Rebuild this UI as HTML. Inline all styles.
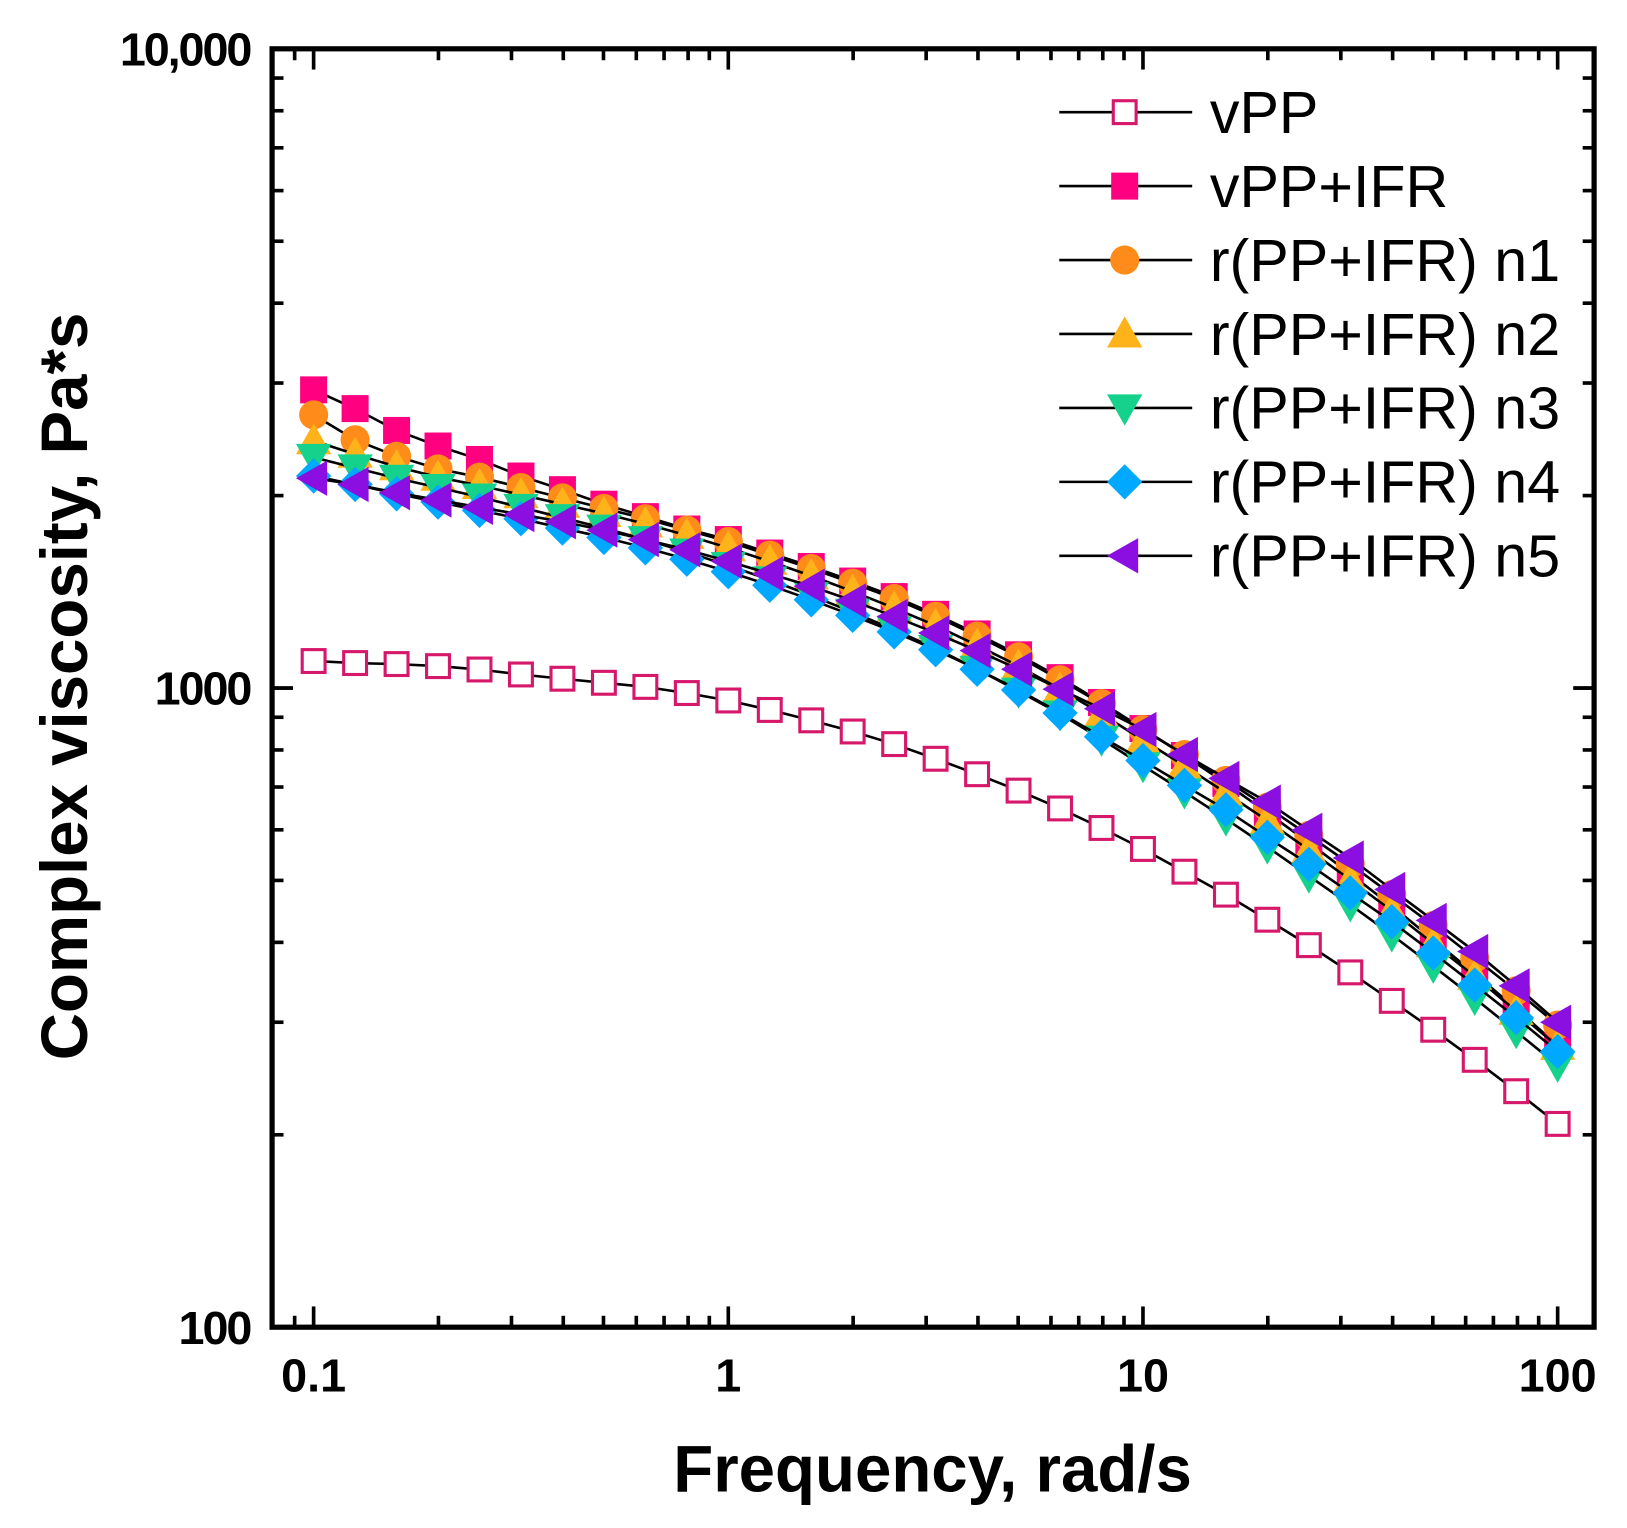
<!DOCTYPE html>
<html><head><meta charset="utf-8"><style>
html,body{margin:0;padding:0;background:#fff;}
svg{display:block;font-family:"Liberation Sans",Arial,sans-serif;}
</style></head><body>
<svg id="chart" width="1627" height="1528" viewBox="0 0 1627 1528" xmlns="http://www.w3.org/2000/svg">
<g transform="scale(1.0385)">
<g id="series"></g><g id="axes"></g><g id="legend"></g>
</g>
</svg>
<script>
const freqs=[0.1,0.1259,0.1585,0.1995,0.2512,0.3162,0.3981,0.5012,0.631,0.7943,1,1.259,1.585,1.995,2.512,3.162,3.981,5.012,6.31,7.943,10,12.59,15.85,19.95,25.12,31.62,39.81,50.12,63.1,79.43,100];
const vPP=[1102,1094,1090,1082,1069,1050,1034,1019,1004,982,956,924,890,855,817,775,733,691,648,604,560,516,475,434,396,359,324,292,262,234,208];
const vPPIFR=[2927,2736,2529,2391,2278,2146,2043,1939,1854,1773,1707,1626,1549,1470,1390,1304,1215,1127,1038,949,864,784,709,638,573,512,456,404,357,315,276];
const n1=[2675,2445,2304,2202,2137,2059,1983,1910,1840,1766,1695,1614,1538,1459,1380,1295,1206,1119,1030,945,861,787,717,651,588,530,475,425,378,336,297];
const n2=[2437,2321,2219,2137,2074,2006,1939,1875,1806,1733,1657,1578,1498,1416,1334,1252,1166,1082,996,911,829,756,685,620,558,501,448,398,354,312,275];
const n3=[2295,2210,2129,2059,1990,1917,1847,1779,1707,1632,1555,1476,1395,1314,1233,1153,1070,989,911,832,756,688,624,564,508,458,411,367,327,290,257];
const n4=[2146,2082,2013,1954,1896,1840,1779,1720,1657,1590,1520,1448,1374,1299,1224,1148,1070,993,914,839,770,704,645,584,530,478,431,385,343,305,270];
const n5=[2129,2082,2021,1968,1917,1868,1820,1766,1707,1645,1579,1509,1443,1369,1294,1219,1144,1070,996,928,861,787,722,663,599,542,484,433,387,342,300];
const seriesNames=["vPP","vPP+IFR","r(PP+IFR) n1","r(PP+IFR) n2","r(PP+IFR) n3","r(PP+IFR) n4","r(PP+IFR) n5"];
const xTickLabels=["0.1","1","10","100"];
const xTickValues=[0.1,1,10,100];
const yTickLabels=["100","1000","10,000"];
const yTickValues=[100,1000,10000];

const NS="http://www.w3.org/2000/svg";
const L=262,R=1535,T=47,B=1278;
const X0=302,XD=399.3,Y0=1278,YD=615.5;
function xs(v){return X0+Math.log10(v/0.1)*XD;}
function ys(v){return Y0-Math.log10(v/100)*YD;}
function mk(tag,attrs,parent){const e=document.createElementNS(NS,tag);for(const k in attrs)e.setAttribute(k,attrs[k]);parent.appendChild(e);return e;}

const styles=[
 {shape:"sq",fill:"#fff",stroke:"#d6186b"},
 {shape:"sq",fill:"#ff0080",stroke:"none"},
 {shape:"circ",fill:"#ff8c1a",stroke:"none"},
 {shape:"tri",fill:"#ffb31a",stroke:"none"},
 {shape:"dtri",fill:"#14d18c",stroke:"none"},
 {shape:"dia",fill:"#00a8ff",stroke:"none"},
 {shape:"ltri",fill:"#8a0fe0",stroke:"none"}
];
function marker(g,st,x,y){
 let e;
 if(st.shape==="sq"){
   if(st.fill==="#fff") e=mk("rect",{x:x-11,y:y-11,width:22,height:22,fill:"#fff",stroke:st.stroke,"stroke-width":3},g);
   else e=mk("rect",{x:x-13,y:y-13,width:26,height:26,fill:st.fill},g);
 } else if(st.shape==="circ") e=mk("circle",{cx:x,cy:y,r:14,fill:st.fill},g);
 else if(st.shape==="tri") e=mk("polygon",{points:`${x},${y-17} ${x+17},${y+13} ${x-17},${y+13}`,fill:st.fill},g);
 else if(st.shape==="dtri") e=mk("polygon",{points:`${x},${y+17} ${x+17},${y-13} ${x-17},${y-13}`,fill:st.fill},g);
 else if(st.shape==="dia") e=mk("polygon",{points:`${x},${y-17} ${x+17},${y} ${x},${y+17} ${x-17},${y}`,fill:st.fill},g);
 else e=mk("polygon",{points:`${x-17},${y} ${x+13},${y-17} ${x+13},${y+17}`,fill:st.fill},g);
 return e;
}

const allSeries=[vPP,vPPIFR,n1,n2,n3,n4,n5];
const sg=document.getElementById("series");
allSeries.forEach((vals,si)=>{
 const g=mk("g",{},sg);
 
 
 const pts=vals.map((v,i)=>xs(freqs[i]).toFixed(1)+","+ys(v).toFixed(1)).join(" ");
 const pl=mk("polyline",{points:pts,fill:"none",stroke:"#000","stroke-width":2.5},g);
 
 
 vals.forEach((v,i)=>{
   const m=marker(g,styles[si],xs(freqs[i]),ys(v));
   
   
 });
});

const ax=document.getElementById("axes");
const frame=mk("rect",{x:L,y:T,width:R-L,height:B-T,fill:"none",stroke:"#000","stroke-width":5},ax);


for(let d=-2;d<=2;d++){
 for(let m=1;m<=9;m++){
   const v=Math.pow(10,d)*m; const x=xs(v);
   if(x<L+2||x>R-2) continue;
   const len=m===1?20:11;
   const t1=mk("line",{x1:x,y1:B,x2:x,y2:B-len,stroke:"#000","stroke-width":3.5},ax);
   
   
   const t2=mk("line",{x1:x,y1:T,x2:x,y2:T+len,stroke:"#000","stroke-width":3.5},ax);
   
   
 }
}
for(let d=2;d<=3;d++){
 for(let m=1;m<=10;m++){
   const v=Math.pow(10,d)*m; const y=ys(v);
   const len=(m===1||m===10)?20:11;
   const t1=mk("line",{x1:L,y1:y,x2:L+len,y2:y,stroke:"#000","stroke-width":3.5},ax);
   
   
   const t2=mk("line",{x1:R,y1:y,x2:R-len,y2:y,stroke:"#000","stroke-width":3.5},ax);
   
   
 }
}
xTickLabels.forEach((lab,i)=>{
 const t=mk("text",{x:xs(xTickValues[i]),y:1340,"text-anchor":"middle","font-size":45,"font-weight":"bold"},ax);
 t.textContent=lab;
 
 
});
yTickLabels.forEach((lab,i)=>{
 const t=mk("text",{x:241,y:ys(yTickValues[i])+16,"text-anchor":"end","font-size":45,"font-weight":"bold","letter-spacing":"-2"},ax);
 t.textContent=lab;
 
 
});
const xt=mk("text",{x:898,y:1436,"text-anchor":"middle","font-size":63,"font-weight":"bold"},ax);
xt.textContent="Frequency, rad/s";


const yt=mk("text",{x:0,y:0,"text-anchor":"middle","font-size":63,"font-weight":"bold",transform:"translate(84,661) rotate(-90)"},ax);
yt.textContent="Complex viscosity, Pa*s";



const lg=document.getElementById("legend");
seriesNames.forEach((nm,i)=>{
 const y=108+i*71.2;
 const g=mk("g",{},lg);
 
 
 mk("line",{x1:1020,y1:y,x2:1148,y2:y,stroke:"#000","stroke-width":2.5},g);
 marker(g,styles[i],1083,y);
 const t=mk("text",{x:1165,y:y+20,"font-size":57},g);
 t.textContent=nm;
});
</script>
</body></html>
